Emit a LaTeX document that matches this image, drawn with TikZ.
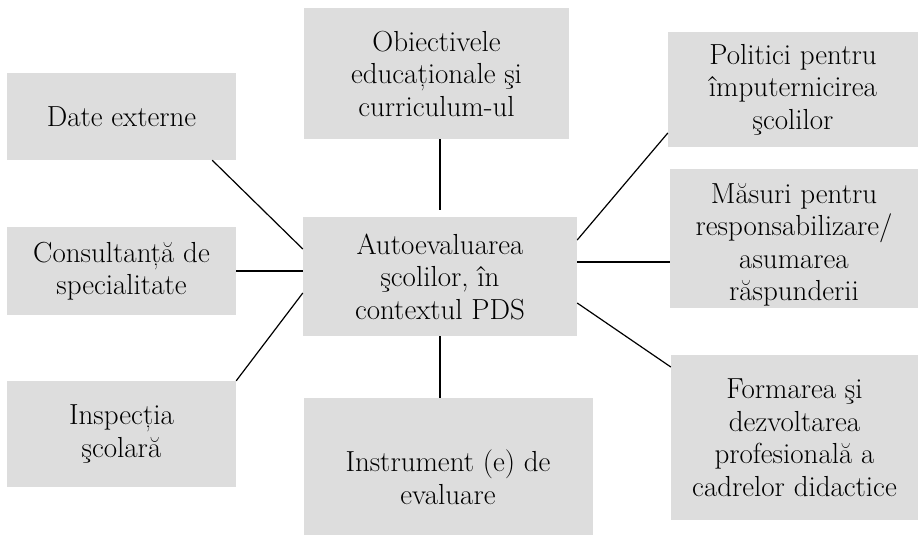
\documentclass[tikz,border=0pt]{standalone}
\usetikzlibrary{calc}
\definecolor{boxgray}{RGB}{221,221,221}

\begin{document}
\begin{tikzpicture}[x=1pt,y=1pt,yscale=-1,xscale=1,
  box/.style={fill=boxgray,draw=none,inner sep=0pt,align=center,font=\fontsize{29}{32.5}\selectfont},
  txt/.style={inner sep=0pt,align=center,font=\fontsize{29}{32.5}\selectfont},
  link/.style={line width=1.2pt}]
\useasboundingbox (0,0) rectangle (920,541);


%Left column
\node [box,minimum width=229,minimum height=87] (date) at (121.5,116.5) {Date externe};
\node [box,minimum width=229,minimum height=88] (cons) at (121.5,271) {Consultanță de\\specialitate};
\node [box,minimum width=229,minimum height=106] (insp) at (121.5,434) {Inspecția\\şcolară};


%Middle column
\node [box,minimum width=265,minimum height=131] (obj) at (436.5,73.5) {Obiectivele\\educaționale şi\\curriculum-ul};
\node [box,minimum width=274,minimum height=119] (auto) at (440,276.5) {Autoevaluarea\\şcolilor, în\\contextul PDS};
\node [box,minimum width=289,minimum height=137] (instr) at (448.5,466.5) {};
\node [txt] (instr-text) at (448,477) {Instrument (e) de\\evaluare};


%Right column
\node [box,minimum width=250,minimum height=115] (pol) at (793,89.5) {Politici pentru\\împuternicirea\\şcolilor};
\node [box,minimum width=248,minimum height=139] (mas) at (794,238.5) {};
\node [txt] (mas-text) at (794,245) {Măsuri pentru\\responsabilizare/\\asumarea\\răspunderii};
\node [box,minimum width=247,minimum height=165] (form) at (794.5,437.5) {Formarea şi\\dezvoltarea\\profesională a\\cadrelor didactice};


%Links: left
\draw [link] ($(date.south east)+(-24,0)$) -- ($(auto.west)+(0,-27.5)$) ;
\draw [link] (cons.east) -- (cons.east -| auto.west) ;
\draw [link] (insp.north east) -- ($(auto.west)+(0,16.5)$) ;

%Links: up & down
\draw [link] (obj.south -| auto.north) -- ($(auto.north)+(0,-7)$) ;
\draw [link] (auto.south) -- (auto.south |- instr.north) ;

%Links: right
\path ($(auto.east)+(0,-14.5)$) coordinate (auto-e2) ;
\draw [link] ($(auto.east)+(0,-36.5)$) -- ($(pol.west)+(0,43.5)$) ;
\draw [link] (auto-e2) -- (auto-e2 -| mas.west) ;
\draw [link] ($(auto.east)+(0,26.5)$) -- ($(form.west)+(0,-70.5)$) ;

\end{tikzpicture}
\end{document}
